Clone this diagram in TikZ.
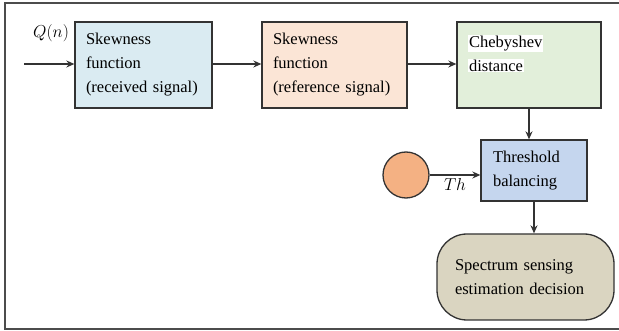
\documentclass[tikz,border=0pt]{standalone}
\usepackage{fontspec}
\setmainfont{Liberation Serif}
\usepackage{amsmath}
\usetikzlibrary{arrows.meta, positioning, calc}
\definecolor{recvcolor}{HTML}{DAEBF2}
\definecolor{refcolor}{HTML}{FBE5D6}
\definecolor{distcolor}{HTML}{E2EFDA}
\definecolor{thrcolor}{HTML}{C5D6EE}
\definecolor{decicolor}{HTML}{DAD5C1}
\definecolor{thcolor}{HTML}{F4B183}
\definecolor{edgecolor}{HTML}{333333}

\begin{document}
\begin{tikzpicture}[x=1pt, y=-1pt, font=\fontsize{16.5}{24}\selectfont]
	\tikzstyle{blockc}=[rectangle, draw=edgecolor, line width=1.3pt, align=left, inner xsep=11pt, inner ysep=2pt, minimum height=86pt]
	\tikzstyle{arr}=[draw=edgecolor, line width=1.2pt, -{Stealth[length=8pt, width=7pt]}]
	\useasboundingbox (0,0) rectangle (619,331);
	\draw[line width=1.5pt, draw=black!70] (619,3) -- (5,3) -- (5,329) -- (619,329);

	\node (t1) at (143.5,65) [blockc, fill=recvcolor, text width=115pt]{Skewness\\function\\(received signal)};
	\node (t2) at (334.5,65) [blockc, fill=refcolor, text width=123pt]{Skewness\\function\\(reference signal)};
	\node (t3) at (529,65) [blockc, fill=distcolor, text width=122pt]{\setlength{\fboxsep}{1pt}\colorbox{white}{Chebyshev}\\\setlength{\fboxsep}{1pt}\colorbox{white}{distance}\\\mbox{}};
	\node (t4) at (534,170.5) [blockc, fill=thrcolor, text width=82pt, inner xsep=12pt, minimum height=61pt]{Threshold\\balancing};
	\node (t5) at (525.5,277) [blockc, fill=decicolor, text width=141pt, inner xsep=18pt, rounded corners=30pt]{Spectrum sensing\\estimation decision};
	\node (th) at (406,175) [circle, draw=edgecolor, line width=1.3pt, fill=thcolor, minimum size=46pt, inner sep=0pt]{};

	\coordinate (in) at (24,64);
	\node (q) at (51,33) {$Q(n)$};

	\draw[arr] (in) -- (in -| t1.west);
	\draw[arr] (t1.east |- in) -- (in -| t2.west);
	\draw[arr] (t2.east |- in) -- (in -| t3.west);
	\draw[arr] (t3.south) -- (t3.south |- t4.north);
	\draw[arr] (th) --node[below] {$Th$} (th -| t4.west);
	\draw[arr] (t4.south) -- (t4.south |- t5.north);
\end{tikzpicture}
\end{document}
